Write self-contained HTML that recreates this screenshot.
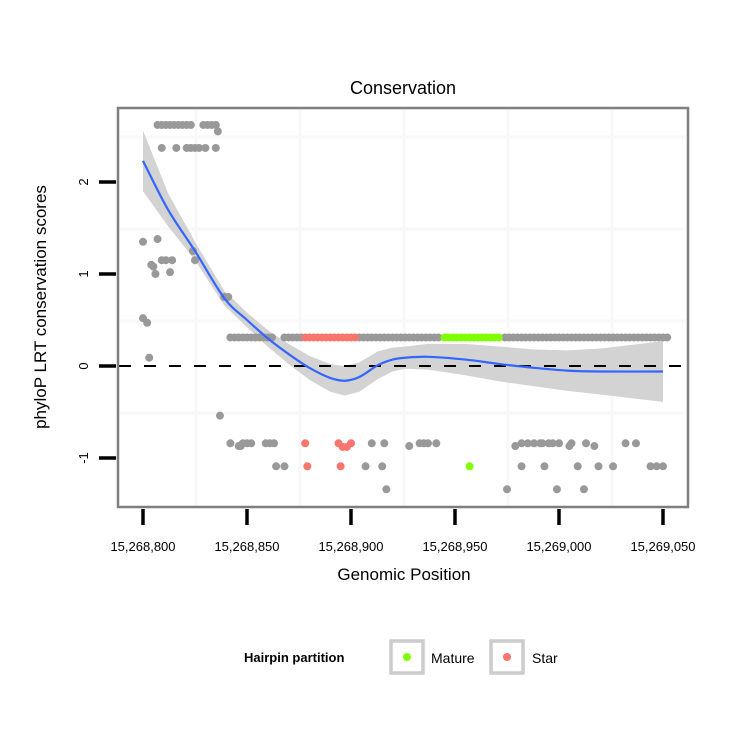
<!DOCTYPE html>
<html><head><meta charset="utf-8"><style>
html,body{margin:0;padding:0;background:#fff;}
svg{display:block;font-family:"Liberation Sans",sans-serif;}
</style></head><body>
<svg id="chart" width="750" height="750" viewBox="0 0 750 750">
<rect x="0" y="0" width="750" height="750" fill="#fff"/>
<text x="403" y="94" font-size="18" text-anchor="middle">Conservation</text>
<text x="404" y="580" font-size="17" text-anchor="middle">Genomic Position</text>
<text transform="translate(46,307) rotate(-90)" font-size="17" text-anchor="middle">phyloP LRT conservation scores</text>
<g id="grid"></g>
<g id="band"></g>
<g id="points"></g>
<g id="smooth"></g>
<rect x="118" y="108" width="570" height="399" fill="none" stroke="#7f7f7f" stroke-width="2.5"/>
<g id="axes"></g>
<g>
<text x="244" y="662" font-size="13" font-weight="bold">Hairpin partition</text>
<rect x="391" y="641" width="32" height="32" fill="#fff" stroke="#cccccc" stroke-width="3.5"/>
<circle cx="407" cy="657" r="4" fill="#7fff00"/>
<text x="431" y="663" font-size="14">Mature</text>
<rect x="491" y="641" width="32" height="32" fill="#fff" stroke="#cccccc" stroke-width="3.5"/>
<circle cx="507" cy="657" r="4" fill="#f8766d"/>
<text x="532" y="663" font-size="14">Star</text>
</g>
</svg>
<script>
const BASE = 15268800;
const xTicks = [0, 50, 100, 150, 200, 250];
const xTickLabels = ["15,268,800","15,268,850","15,268,900","15,268,950","15,269,000","15,269,050"];
const yTicks = [-1, 0, 1, 2];
const yTickLabels = ["-1","0","1","2"];
// gray points: offsets (bp from 15,268,800) and scores
const grayPos = [7,9,11,13,15,17,19,21,23,29,31,33,35, 9,16,21,23,25,27,30,35, 36,
  0,7,11,4,9,14,5,6,13,0,2,3,24,25, 39,41,
  42,44,46,48,50,52,54,56,58,60,62,68,70,72,74,76,
  104,106,108,110,112,114,116,118,120,122,124,126,128,130,132,134,136,138,140,142,
  174,176,178,180,182,184,186,188,190,192,194,196,198,200,202,204,206,208,210,212,214,216,218,220,222,224,226,228,230,232,234,236,238,240,242,244,246,248,250,252,
  37,42,46,47,48,50,52,59,61,63,110,116,128,133,135,137,141,
  179,182,185,188,191,192,195,197,200,205,206,213,217,232,237,
  64,68,107,115,182,193,209,219,226,244,247,250,
  117,175,199,212];
const grayVal = [2.62,2.62,2.62,2.62,2.62,2.62,2.62,2.62,2.62,2.62,2.62,2.62,2.62, 2.37,2.37,2.37,2.37,2.37,2.37,2.37,2.37, 2.55,
  1.35,1.38,1.15,1.1,1.15,1.15,1.08,1.0,1.02,0.52,0.47,0.09,1.25,1.15, 0.75,0.75,
  0.31,0.31,0.31,0.31,0.31,0.31,0.31,0.31,0.31,0.31,0.31,0.31,0.31,0.31,0.31,0.31,
  0.31,0.31,0.31,0.31,0.31,0.31,0.31,0.31,0.31,0.31,0.31,0.31,0.31,0.31,0.31,0.31,0.31,0.31,0.31,0.31,
  0.31,0.31,0.31,0.31,0.31,0.31,0.31,0.31,0.31,0.31,0.31,0.31,0.31,0.31,0.31,0.31,0.31,0.31,0.31,0.31,0.31,0.31,0.31,0.31,0.31,0.31,0.31,0.31,0.31,0.31,0.31,0.31,0.31,0.31,0.31,0.31,0.31,0.31,0.31,0.31,
  -0.54,-0.84,-0.87,-0.87,-0.84,-0.84,-0.84,-0.84,-0.84,-0.84,-0.84,-0.84,-0.87,-0.84,-0.84,-0.84,-0.84,
  -0.87,-0.84,-0.84,-0.84,-0.84,-0.84,-0.84,-0.84,-0.84,-0.87,-0.84,-0.84,-0.87,-0.84,-0.84,
  -1.09,-1.09,-1.09,-1.09,-1.09,-1.09,-1.09,-1.09,-1.09,-1.09,-1.09,-1.09,
  -1.34,-1.34,-1.34,-1.34];
const starPos = [78,80,82,84,86,88,90,92,94,96,98,100,102, 78,94,100,96,98, 79,95];
const starVal = [0.31,0.31,0.31,0.31,0.31,0.31,0.31,0.31,0.31,0.31,0.31,0.31,0.31, -0.84,-0.84,-0.84,-0.88,-0.88, -1.09,-1.09];
const maturePos = [145,147,149,151,153,155,157,159,161,163,165,167,169,171, 157];
const matureVal = [0.31,0.31,0.31,0.31,0.31,0.31,0.31,0.31,0.31,0.31,0.31,0.31,0.31,0.31, -1.09];
// loess fit
const fitPos = [0,12,25,39,50,60,70,80,90,97,104,113,120,126,137,155,172,188,204,220,250];
const fitVal = [2.23,1.70,1.25,0.74,0.50,0.30,0.13,-0.02,-0.13,-0.16,-0.12,0.01,0.07,0.09,0.10,0.07,0.02,-0.02,-0.05,-0.06,-0.06];
const fitSe = [0.33,0.18,0.10,0.08,0.08,0.09,0.11,0.13,0.15,0.16,0.16,0.15,0.13,0.12,0.14,0.17,0.19,0.20,0.22,0.25,0.33];

const NS = "http://www.w3.org/2000/svg";
function X(p){ return 143 + p*2.08; }
function Y(v){ return 366 - v*92; }
function mk(tag, attrs, parent){
  const e = document.createElementNS(NS, tag);
  for (const k in attrs) e.setAttribute(k, attrs[k]);
  parent.appendChild(e); return e;
}
const grid = document.getElementById('grid');
[25,75,125,175,225].forEach(p => {
  const l = mk('line', {x1:X(p)+1, x2:X(p)+1, y1:109, y2:506, stroke:'#f8f8f8', 'stroke-width':3}, grid);
  
  
});
[2.5,1.5,0.5,-0.5].forEach(v => {
  const l = mk('line', {x1:119, x2:687, y1:Y(v)+1, y2:Y(v)+1, stroke:'#f8f8f8', 'stroke-width':3}, grid);
  
  
});

// band
let d = '';
fitPos.forEach((p,i)=>{ d += (i?'L':'M') + X(p) + ',' + Y(fitVal[i]+fitSe[i]); });
for (let i=fitPos.length-1;i>=0;i--) d += 'L' + X(fitPos[i]) + ',' + Y(fitVal[i]-fitSe[i]);
const band = mk('path', {d:d+'Z', fill:'#d3d3d3'}, document.getElementById('band'));



// zero line
const zl = mk('line', {x1:119, x2:687, y1:Y(0), y2:Y(0), stroke:'#000', 'stroke-width':2, 'stroke-dasharray':'12,13'}, document.getElementById('points'));



// points
const pts = document.getElementById('points');
function drawPts(pos, val, col, name){
  pos.forEach((p,i)=>{
    const c = mk('circle', {cx:X(p), cy:Y(val[i]), r:4, fill:col}, pts);
    
    
  });
}
drawPts(grayPos, grayVal, '#999999', 'point-other');
drawPts(starPos, starVal, '#f8766d', 'point-star');
drawPts(maturePos, matureVal, '#7fff00', 'point-mature');

// smooth line (catmull-rom)
const P = fitPos.map((p,i)=>[X(p), Y(fitVal[i])]);
let s = 'M' + P[0][0] + ',' + P[0][1];
for (let i=0;i<P.length-1;i++){
  const p0=P[Math.max(0,i-1)], p1=P[i], p2=P[i+1], p3=P[Math.min(P.length-1,i+2)];
  const c1=[p1[0]+(p2[0]-p0[0])/6, p1[1]+(p2[1]-p0[1])/6];
  const c2=[p2[0]-(p3[0]-p1[0])/6, p2[1]-(p3[1]-p1[1])/6];
  s += 'C'+c1[0]+','+c1[1]+' '+c2[0]+','+c2[1]+' '+p2[0]+','+p2[1];
}
const sl = mk('path', {d:s, fill:'none', stroke:'#3366ff', 'stroke-width':2.2}, document.getElementById('smooth'));



// axes
const axes = document.getElementById('axes');
xTicks.forEach((p,i)=>{
  const t = mk('line', {x1:X(p), x2:X(p), y1:509, y2:525, stroke:'#000', 'stroke-width':3.5}, axes);
  
  
  const lb = mk('text', {x:X(p), y:551, 'font-size':13, 'text-anchor':'middle'}, axes);
  lb.textContent = xTickLabels[i];
  
  
});
yTicks.forEach((v,i)=>{
  const t = mk('line', {x1:99, x2:116, y1:Y(v), y2:Y(v), stroke:'#000', 'stroke-width':3.5}, axes);
  
  
  const lb = mk('text', {transform:'translate(88,'+Y(v)+') rotate(-90)', 'font-size':13, 'text-anchor':'middle'}, axes);
  lb.textContent = yTickLabels[i];
  
  
});
</script>
</body></html>
